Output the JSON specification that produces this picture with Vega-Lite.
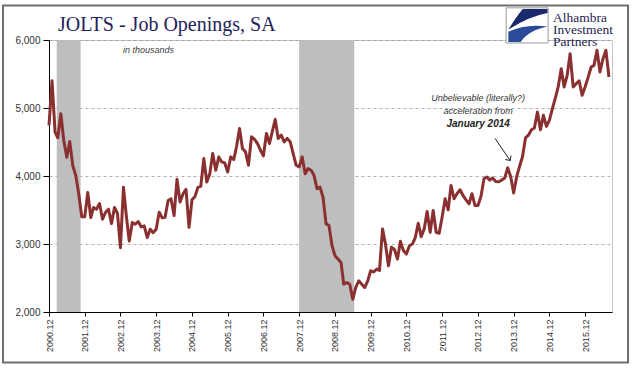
{
  "$schema": "https://vega.github.io/schema/vega-lite/v6.json",
  "width": 563,
  "height": 272,
  "autosize": {"type": "none"},
  "padding": {"left": 49, "top": 40, "right": 28, "bottom": 63},
  "background": "white",
  "title": {"text": "JOLTS - Job Openings, SA", "anchor": "start", "frame": "group", "dx": 9, "dy": 55, "offset": 9, "baseline": "alphabetic", "font": "Liberation Serif", "fontSize": 20, "fontWeight": "normal", "color": "#23235b"},
  "config": {"view": {"stroke": "#c8c8c8", "strokeWidth": 1}, "axisX": {"labelOverlap": false}, "axis": {"labelOverlap": false}},
  "datasets": {
    "rec": [{"s": "2001/02/18", "e": "2001/10/20"}, {"s": "2007/12/01", "e": "2009/06/16"}],
    "jolts": [
      {"d": "2000/12/01", "v": 4744},
      {"d": "2001/01/01", "v": 5399}, {"d": "2001/02/01", "v": 4645}, {"d": "2001/03/01", "v": 4562}, {"d": "2001/04/01", "v": 4916}, {"d": "2001/05/01", "v": 4522}, {"d": "2001/06/01", "v": 4276}, {"d": "2001/07/01", "v": 4507}, {"d": "2001/08/01", "v": 4153}, {"d": "2001/09/01", "v": 4005}, {"d": "2001/10/01", "v": 3734}, {"d": "2001/11/01", "v": 3399}, {"d": "2001/12/01", "v": 3399},
      {"d": "2002/01/01", "v": 3759}, {"d": "2002/02/01", "v": 3389}, {"d": "2002/03/01", "v": 3537}, {"d": "2002/04/01", "v": 3512}, {"d": "2002/05/01", "v": 3596}, {"d": "2002/06/01", "v": 3365}, {"d": "2002/07/01", "v": 3463}, {"d": "2002/08/01", "v": 3512}, {"d": "2002/09/01", "v": 3300}, {"d": "2002/10/01", "v": 3537}, {"d": "2002/11/01", "v": 3448}, {"d": "2002/12/01", "v": 2946},
      {"d": "2003/01/01", "v": 3833}, {"d": "2003/02/01", "v": 3389}, {"d": "2003/03/01", "v": 3044}, {"d": "2003/04/01", "v": 3315}, {"d": "2003/05/01", "v": 3291}, {"d": "2003/06/01", "v": 3330}, {"d": "2003/07/01", "v": 3251}, {"d": "2003/08/01", "v": 3266}, {"d": "2003/09/01", "v": 3094}, {"d": "2003/10/01", "v": 3217}, {"d": "2003/11/01", "v": 3167}, {"d": "2003/12/01", "v": 3217},
      {"d": "2004/01/01", "v": 3468}, {"d": "2004/02/01", "v": 3384}, {"d": "2004/03/01", "v": 3394}, {"d": "2004/04/01", "v": 3640}, {"d": "2004/05/01", "v": 3665}, {"d": "2004/06/01", "v": 3419}, {"d": "2004/07/01", "v": 3951}, {"d": "2004/08/01", "v": 3616}, {"d": "2004/09/01", "v": 3739}, {"d": "2004/10/01", "v": 3803}, {"d": "2004/11/01", "v": 3246}, {"d": "2004/12/01", "v": 3650},
      {"d": "2005/01/01", "v": 3700}, {"d": "2005/02/01", "v": 3837}, {"d": "2005/03/01", "v": 3847}, {"d": "2005/04/01", "v": 4256}, {"d": "2005/05/01", "v": 3911}, {"d": "2005/06/01", "v": 4034}, {"d": "2005/07/01", "v": 4330}, {"d": "2005/08/01", "v": 4084}, {"d": "2005/09/01", "v": 4281}, {"d": "2005/10/01", "v": 4207}, {"d": "2005/11/01", "v": 4192}, {"d": "2005/12/01", "v": 4059},
      {"d": "2006/01/01", "v": 4281}, {"d": "2006/02/01", "v": 4241}, {"d": "2006/03/01", "v": 4429}, {"d": "2006/04/01", "v": 4700}, {"d": "2006/05/01", "v": 4404}, {"d": "2006/06/01", "v": 4355}, {"d": "2006/07/01", "v": 4158}, {"d": "2006/08/01", "v": 4576}, {"d": "2006/09/01", "v": 4537}, {"d": "2006/10/01", "v": 4478}, {"d": "2006/11/01", "v": 4379}, {"d": "2006/12/01", "v": 4296},
      {"d": "2007/01/01", "v": 4626}, {"d": "2007/02/01", "v": 4478}, {"d": "2007/03/01", "v": 4650}, {"d": "2007/04/01", "v": 4833}, {"d": "2007/05/01", "v": 4552}, {"d": "2007/06/01", "v": 4601}, {"d": "2007/07/01", "v": 4502}, {"d": "2007/08/01", "v": 4552}, {"d": "2007/09/01", "v": 4502}, {"d": "2007/10/01", "v": 4330}, {"d": "2007/11/01", "v": 4158}, {"d": "2007/12/01", "v": 4133},
      {"d": "2008/01/01", "v": 4281}, {"d": "2008/02/01", "v": 4034}, {"d": "2008/03/01", "v": 4108}, {"d": "2008/04/01", "v": 4084}, {"d": "2008/05/01", "v": 4010}, {"d": "2008/06/01", "v": 3813}, {"d": "2008/07/01", "v": 3837}, {"d": "2008/08/01", "v": 3690}, {"d": "2008/09/01", "v": 3296}, {"d": "2008/10/01", "v": 3271}, {"d": "2008/11/01", "v": 2975}, {"d": "2008/12/01", "v": 2828},
      {"d": "2009/01/01", "v": 2778}, {"d": "2009/02/01", "v": 2729}, {"d": "2009/03/01", "v": 2409}, {"d": "2009/04/01", "v": 2433}, {"d": "2009/05/01", "v": 2409}, {"d": "2009/06/01", "v": 2187}, {"d": "2009/07/01", "v": 2360}, {"d": "2009/08/01", "v": 2458}, {"d": "2009/09/01", "v": 2409}, {"d": "2009/10/01", "v": 2360}, {"d": "2009/11/01", "v": 2458}, {"d": "2009/12/01", "v": 2606},
      {"d": "2010/01/01", "v": 2590}, {"d": "2010/02/01", "v": 2631}, {"d": "2010/03/01", "v": 2610}, {"d": "2010/04/01", "v": 3222}, {"d": "2010/05/01", "v": 3000}, {"d": "2010/06/01", "v": 2680}, {"d": "2010/07/01", "v": 2951}, {"d": "2010/08/01", "v": 2920}, {"d": "2010/09/01", "v": 2778}, {"d": "2010/10/01", "v": 3039}, {"d": "2010/11/01", "v": 2901}, {"d": "2010/12/01", "v": 2852},
      {"d": "2011/01/01", "v": 2975}, {"d": "2011/02/01", "v": 3000}, {"d": "2011/03/01", "v": 3089}, {"d": "2011/04/01", "v": 3305}, {"d": "2011/05/01", "v": 3108}, {"d": "2011/06/01", "v": 3222}, {"d": "2011/07/01", "v": 3478}, {"d": "2011/08/01", "v": 3172}, {"d": "2011/09/01", "v": 3493}, {"d": "2011/10/01", "v": 3172}, {"d": "2011/11/01", "v": 3158}, {"d": "2011/12/01", "v": 3394},
      {"d": "2012/01/01", "v": 3665}, {"d": "2012/02/01", "v": 3502}, {"d": "2012/03/01", "v": 3862}, {"d": "2012/04/01", "v": 3665}, {"d": "2012/05/01", "v": 3739}, {"d": "2012/06/01", "v": 3798}, {"d": "2012/07/01", "v": 3714}, {"d": "2012/08/01", "v": 3650}, {"d": "2012/09/01", "v": 3591}, {"d": "2012/10/01", "v": 3739}, {"d": "2012/11/01", "v": 3566}, {"d": "2012/12/01", "v": 3566},
      {"d": "2013/01/01", "v": 3700}, {"d": "2013/02/01", "v": 3960}, {"d": "2013/03/01", "v": 3985}, {"d": "2013/04/01", "v": 3940}, {"d": "2013/05/01", "v": 3970}, {"d": "2013/06/01", "v": 3920}, {"d": "2013/07/01", "v": 3915}, {"d": "2013/08/01", "v": 3940}, {"d": "2013/09/01", "v": 3970}, {"d": "2013/10/01", "v": 4122}, {"d": "2013/11/01", "v": 3990}, {"d": "2013/12/01", "v": 3750},
      {"d": "2014/01/01", "v": 3990}, {"d": "2014/02/01", "v": 4150}, {"d": "2014/03/01", "v": 4280}, {"d": "2014/04/01", "v": 4560}, {"d": "2014/05/01", "v": 4600}, {"d": "2014/06/01", "v": 4680}, {"d": "2014/07/01", "v": 4705}, {"d": "2014/08/01", "v": 4941}, {"d": "2014/09/01", "v": 4681}, {"d": "2014/10/01", "v": 4892}, {"d": "2014/11/01", "v": 4730}, {"d": "2014/12/01", "v": 4819},
      {"d": "2015/01/01", "v": 4990}, {"d": "2015/02/01", "v": 5152}, {"d": "2015/03/01", "v": 5309}, {"d": "2015/04/01", "v": 5578}, {"d": "2015/05/01", "v": 5309}, {"d": "2015/06/01", "v": 5480}, {"d": "2015/07/01", "v": 5799}, {"d": "2015/08/01", "v": 5309}, {"d": "2015/09/01", "v": 5358}, {"d": "2015/10/01", "v": 5400}, {"d": "2015/11/01", "v": 5186}, {"d": "2015/12/01", "v": 5309},
      {"d": "2016/01/01", "v": 5450}, {"d": "2016/02/01", "v": 5603}, {"d": "2016/03/01", "v": 5627}, {"d": "2016/04/01", "v": 5848}, {"d": "2016/05/01", "v": 5530}, {"d": "2016/06/01", "v": 5725}, {"d": "2016/07/01", "v": 5848}, {"d": "2016/08/01", "v": 5456}
    ]
  },
  "layer": [
    {
      "data": {"name": "rec"},
      "mark": {"type": "rect", "color": "#bebebe"},
      "encoding": {
        "x": {
          "field": "s", "type": "temporal", "title": null,
          "scale": {"domain": [{"year": 2000, "month": 12, "date": 1}, {"year": 2016, "month": 9, "date": 1}]},
          "axis": {
            "values": [{"year": 2000, "month": 12, "date": 1}, {"year": 2001, "month": 12, "date": 1}, {"year": 2002, "month": 12, "date": 1}, {"year": 2003, "month": 12, "date": 1}, {"year": 2004, "month": 12, "date": 1}, {"year": 2005, "month": 12, "date": 1}, {"year": 2006, "month": 12, "date": 1}, {"year": 2007, "month": 12, "date": 1}, {"year": 2008, "month": 12, "date": 1}, {"year": 2009, "month": 12, "date": 1}, {"year": 2010, "month": 12, "date": 1}, {"year": 2011, "month": 12, "date": 1}, {"year": 2012, "month": 12, "date": 1}, {"year": 2013, "month": 12, "date": 1}, {"year": 2014, "month": 12, "date": 1}, {"year": 2015, "month": 12, "date": 1}],
            "tickCount": 40,
            "format": "%Y.%m", "labelAngle": -90, "labelOverlap": false, "labelBound": false, "grid": false,
            "tickSize": 4, "labelPadding": 3, "labelFont": "Liberation Sans", "labelFontSize": 9, "labelColor": "#333333",
            "domainColor": "#000000", "tickColor": "#000000"
          }
        },
        "x2": {"field": "e"}
      }
    },
    {
      "data": {"name": "jolts"},
      "mark": {"type": "line", "color": "#8a3030", "strokeWidth": 3, "strokeJoin": "round"},
      "encoding": {
        "x": {
          "field": "d", "type": "temporal", "title": null,
          "scale": {"domain": [{"year": 2000, "month": 12, "date": 1}, {"year": 2016, "month": 9, "date": 1}]},
          "axis": {
            "values": [{"year": 2000, "month": 12, "date": 1}, {"year": 2001, "month": 12, "date": 1}, {"year": 2002, "month": 12, "date": 1}, {"year": 2003, "month": 12, "date": 1}, {"year": 2004, "month": 12, "date": 1}, {"year": 2005, "month": 12, "date": 1}, {"year": 2006, "month": 12, "date": 1}, {"year": 2007, "month": 12, "date": 1}, {"year": 2008, "month": 12, "date": 1}, {"year": 2009, "month": 12, "date": 1}, {"year": 2010, "month": 12, "date": 1}, {"year": 2011, "month": 12, "date": 1}, {"year": 2012, "month": 12, "date": 1}, {"year": 2013, "month": 12, "date": 1}, {"year": 2014, "month": 12, "date": 1}, {"year": 2015, "month": 12, "date": 1}],
            "tickCount": 40,
            "format": "%Y.%m", "labelAngle": -90, "labelOverlap": false, "labelBound": false, "grid": false,
            "tickSize": 4, "labelPadding": 3, "labelFont": "Liberation Sans", "labelFontSize": 9, "labelColor": "#333333",
            "domainColor": "#000000", "tickColor": "#000000"
          }
        },
        "y": {
          "field": "v", "type": "quantitative", "title": null,
          "scale": {"domain": [2000, 6000], "nice": false, "zero": false},
          "axis": {
            "values": [2000, 3000, 4000, 5000, 6000], "format": ",.0f", "grid": true,
            "gridColor": "#9a9a9a", "gridDash": [3, 3], "gridWidth": 0.8,
            "tickSize": 6, "labelPadding": 3, "labelFont": "Liberation Sans", "labelFontSize": 10, "labelColor": "#333333",
            "domainColor": "#000000", "tickColor": "#000000"
          }
        }
      }
    },
    {
      "data": {"values": [{}]},
      "mark": {"type": "text", "text": "in thousands", "font": "Liberation Sans", "fontStyle": "italic", "fontSize": 9, "color": "#404040", "align": "center", "baseline": "alphabetic"},
      "encoding": {
        "x": {"datum": {"year": 2003, "month": 9, "date": 13}, "type": "temporal"},
        "y": {"datum": 5810, "type": "quantitative"}
      }
    },
    {
      "data": {"values": [{}]},
      "mark": {"type": "text", "text": ["Unbelievable (literally?)", "acceleration from"], "lineHeight": 13, "font": "Liberation Sans", "fontStyle": "italic", "fontSize": 9, "color": "#333333", "align": "center", "baseline": "alphabetic"},
      "encoding": {
        "x": {"datum": {"year": 2012, "month": 12, "date": 3}, "type": "temporal"},
        "y": {"datum": 5099, "type": "quantitative"}
      }
    },
    {
      "data": {"values": [{}]},
      "mark": {"type": "text", "text": "January  2014", "font": "Liberation Sans", "fontStyle": "italic", "fontWeight": "bold", "fontSize": 10, "color": "#222222", "align": "center", "baseline": "alphabetic"},
      "encoding": {
        "x": {"datum": {"year": 2012, "month": 12, "date": 3}, "type": "temporal"},
        "y": {"datum": 4715, "type": "quantitative"}
      }
    },
    {
      "data": {"values": [{}]},
      "mark": {"type": "rule", "color": "#222222", "strokeWidth": 1},
      "encoding": {
        "x": {"datum": {"year": 2013, "month": 5, "date": 25}, "type": "temporal"},
        "y": {"datum": 4552, "type": "quantitative"},
        "x2": {"datum": {"year": 2013, "month": 10, "date": 26}},
        "y2": {"datum": 4228}
      }
    },
    {
      "data": {"values": [{}]},
      "mark": {"type": "point", "shape": "M -1 -1 L 0 0 L 1 -1", "filled": false, "stroke": "#222222", "strokeWidth": 1, "size": 49, "angle": 326, "opacity": 1},
      "encoding": {
        "x": {"datum": {"year": 2013, "month": 10, "date": 26}, "type": "temporal"},
        "y": {"datum": 4228, "type": "quantitative"}
      }
    },
    {
      "data": {"values": [{}]},
      "mark": {"type": "rect", "fill": "#ffffff", "stroke": "#9a9a9a", "strokeWidth": 1},
      "encoding": {
        "x": {"datum": {"year": 2013, "month": 9, "date": 15}, "type": "temporal"},
        "x2": {"datum": {"year": 2014, "month": 11, "date": 18}},
        "y": {"datum": 6473, "type": "quantitative"},
        "y2": {"datum": 5956}
      }
    },
    {
      "data": {"values": [{}]},
      "mark": {"type": "point", "shape": "M -0.25 -0.8 L 0.95 -0.8 L 0.95 -0.6 Q 0.1 -0.45 -0.95 0.2 Q -0.55 -0.45 -0.25 -0.8 Z", "filled": true, "fill": "#1b2a6e", "strokeWidth": 0, "size": 1700, "opacity": 1},
      "encoding": {
        "x": {"datum": {"year": 2014, "month": 4, "date": 26}, "type": "temporal"},
        "y": {"datum": 6214, "type": "quantitative"}
      }
    },
    {
      "data": {"values": [{}]},
      "mark": {"type": "point", "shape": "M -0.95 0.3 Q -0.1 -0.1 0.95 0.05 Q 0 0.25 -0.35 0.8 L -0.95 0.8 Z", "filled": true, "fill": "#2a4a9a", "strokeWidth": 0, "size": 1700, "opacity": 1},
      "encoding": {
        "x": {"datum": {"year": 2014, "month": 4, "date": 26}, "type": "temporal"},
        "y": {"datum": 6214, "type": "quantitative"}
      }
    },
    {
      "data": {"values": [{}]},
      "mark": {"type": "text", "text": ["Alhambra", "Investment", "Partners"], "lineHeight": 12.4, "font": "Liberation Serif", "fontSize": 13.5, "color": "#1f2250", "align": "left", "baseline": "alphabetic"},
      "encoding": {
        "x": {"datum": {"year": 2015, "month": 1, "date": 8}, "type": "temporal"},
        "y": {"datum": 6270, "type": "quantitative"}
      }
    },
    {
      "data": {"values": [{}]},
      "mark": {"type": "rect", "fill": "#ffffff", "fillOpacity": 0, "stroke": "#6e6e6e", "strokeWidth": 2},
      "encoding": {
        "x": {"datum": {"year": 1999, "month": 8, "date": 19}, "type": "temporal"},
        "x2": {"datum": {"year": 2017, "month": 2, "date": 12}},
        "y": {"datum": 6507, "type": "quantitative"},
        "y2": {"datum": 1257}
      }
    }
  ]
}
